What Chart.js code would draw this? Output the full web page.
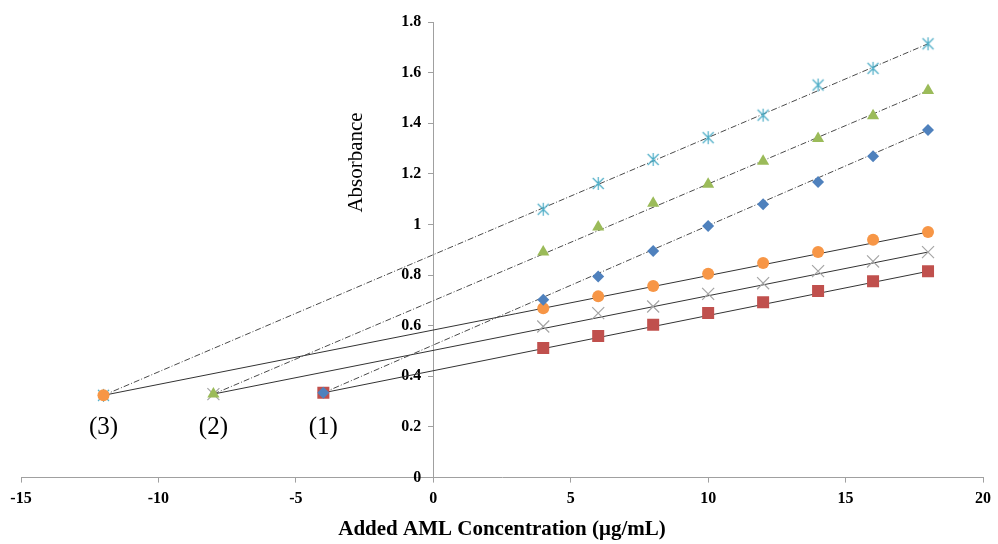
<!DOCTYPE html>
<html>
<head>
<meta charset="utf-8">
<script src="https://cdn.jsdelivr.net/npm/chart.js@4/dist/chart.umd.min.js"></script>
<style>
    html, body { margin: 0; padding: 0; background: #fff; }
    #wrap { width: 998px; height: 544px; }
</style>
</head>
<body>
<div id="wrap"><canvas id="absChart" width="998" height="544"></canvas></div>
<script>
    // added AML concentration (ug/mL)
    var addedConc = [4, 6, 8, 10, 12, 14, 16, 18];

    // absorbance readings, one array per series
    var absDiamond = [0.703, 0.795, 0.895, 0.994, 1.080, 1.168, 1.270, 1.373];
    var absSquare = [0.512, 0.559, 0.604, 0.650, 0.693, 0.737, 0.776, 0.815];
    var absTriangle = [0.891, 0.990, 1.084, 1.159, 1.250, 1.340, 1.430, 1.529];
    var absCross = [0.597, 0.650, 0.676, 0.726, 0.768, 0.816, 0.854, 0.891];
    var absStar = [1.060, 1.162, 1.257, 1.343, 1.432, 1.551, 1.617, 1.714];
    var absCircle = [0.669, 0.716, 0.757, 0.805, 0.848, 0.891, 0.940, 0.970];

    // extrapolated points (1), (2), (3)
    var interceptX = [-4, -8, -12];
    var interceptY = [0.335, 0.330, 0.325];
    var interceptLabels = ['(1)', '(2)', '(3)'];
    var labelY = 0.198;

    var xTicks = [-15, -10, -5, 0, 5, 10, 15, 20];
    var yTickLabels = ['0', '0.2', '0.4', '0.6', '0.8', '1', '1.2', '1.4', '1.6', '1.8'];

    var serif = '"Liberation Serif", "Times New Roman", serif';

    // excel style asterisk: an x with a vertical bar
    function asterisk(color) {
        var c = document.createElement('canvas');
        c.width = 15;
        c.height = 15;
        var g = c.getContext('2d');
        g.strokeStyle = color;
        g.lineWidth = 1.2;
        g.beginPath();
        g.moveTo(2, 2); g.lineTo(13, 13);
        g.moveTo(13, 2); g.lineTo(2, 13);
        g.moveTo(7.5, 1); g.lineTo(7.5, 14);
        g.stroke();
        return c;
    }

    function points(xs, ys) {
        return xs.map(function(x, i) { return {x: x, y: ys[i]}; });
    }

    // marker series: anchor point first, then the measured points
    function markerSet(ys, k, style, color, radius, order) {
        return {
            type: 'scatter',
            data: [{x: interceptX[k], y: interceptY[k]}].concat(points(addedConc, ys)),
            pointStyle: style,
            pointRadius: radius,
            pointBackgroundColor: color,
            pointBorderColor: color,
            pointBorderWidth: style === 'crossRot' ? 1.2 : 0,
            showLine: false,
            order: order
        };
    }

    // straight line from the anchor point to the last reading
    function lineSet(ys, k, dashed) {
        return {
            type: 'scatter',
            data: [{x: interceptX[k], y: interceptY[k]}, {x: addedConc[addedConc.length - 1], y: ys[ys.length - 1]}],
            showLine: true,
            borderColor: dashed ? '#4a4a4a' : '#333',
            borderWidth: 1,
            borderDash: dashed ? [6, 2, 1, 2] : [],
            pointRadius: 0,
            order: 20
        };
    }

    var textPlugin = {
        id: 'textPlugin',
        afterDatasetsDraw: function(chart) {
            var ctx = chart.ctx;
            var sx = chart.scales.x, sy = chart.scales.y;
            ctx.save();
            ctx.fillStyle = '#000';
            ctx.textAlign = 'center';
            ctx.textBaseline = 'middle';
            ctx.font = '25px ' + serif;
            interceptLabels.forEach(function(lbl, i) {
                ctx.fillText(lbl, sx.getPixelForValue(interceptX[i]), sy.getPixelForValue(labelY));
            });
            // y title sits beside the axis, inside the plot
            ctx.translate(sx.getPixelForValue(-2.8), sy.getPixelForValue(1.245));
            ctx.rotate(-Math.PI / 2);
            ctx.font = '21px ' + serif;
            ctx.fillText('Absorbance', 0, 0);
            ctx.restore();
        }
    };

    var ctx = document.getElementById('absChart').getContext('2d');
    var chart = new Chart(ctx, {
        type: 'scatter',
        data: {
            datasets: [
                lineSet(absDiamond, 0, true),
                lineSet(absSquare, 0, false),
                lineSet(absTriangle, 1, true),
                lineSet(absCross, 1, false),
                lineSet(absStar, 2, true),
                lineSet(absCircle, 2, false),
                markerSet(absStar, 2, asterisk('#4bacc6'), '#4bacc6', 7, 6),
                markerSet(absCircle, 2, 'circle', '#f79646', 6, 5),
                markerSet(absCross, 1, 'crossRot', '#a5a5a5', 8.5, 4),
                markerSet(absTriangle, 1, 'triangle', '#9bbb59', 7, 3),
                markerSet(absSquare, 0, 'rect', '#c0504d', 8.5, 2),
                markerSet(absDiamond, 0, 'rectRot', '#4f81bd', 6, 1)
            ]
        },
        options: {
            responsive: false,
            animation: false,
            devicePixelRatio: 1,
            layout: { padding: { left: 21, right: 6, top: 22, bottom: 2 } },
            plugins: {
                legend: { display: false },
                tooltip: { enabled: false }
            },
            scales: {
                x: {
                    type: 'linear',
                    min: -15,
                    max: 20,
                    afterBuildTicks: function(scale) {
                        scale.ticks = xTicks.map(function(v) { return {value: v}; });
                    },
                    ticks: { color: '#000', font: { family: serif, size: 16, weight: 'bold' }, padding: 7 },
                    grid: { drawOnChartArea: false, tickLength: 5, color: '#a0a0a0' },
                    border: { color: '#a0a0a0' },
                    title: {
                        display: true,
                        text: 'Added AML Concentration (μg/mL)',
                        color: '#000',
                        font: { family: serif, size: 21, weight: 'bold' },
                        padding: { top: 1, bottom: 0 }
                    }
                },
                y: {
                    type: 'linear',
                    position: { x: 0 },
                    min: 0,
                    max: 1.8,
                    ticks: {
                        stepSize: 0.2,
                        color: '#000',
                        font: { family: serif, size: 16, weight: 'bold' },
                        // padding is ignored for a centred axis, so pad with spaces
                        callback: function(v, i) { return yTickLabels[i] + '   '; }
                    },
                    grid: { drawOnChartArea: false, tickLength: 5, color: '#a0a0a0' },
                    border: { color: '#a0a0a0' }
                }
            }
        },
        plugins: [textPlugin]
    });
</script>
</body>
</html>
